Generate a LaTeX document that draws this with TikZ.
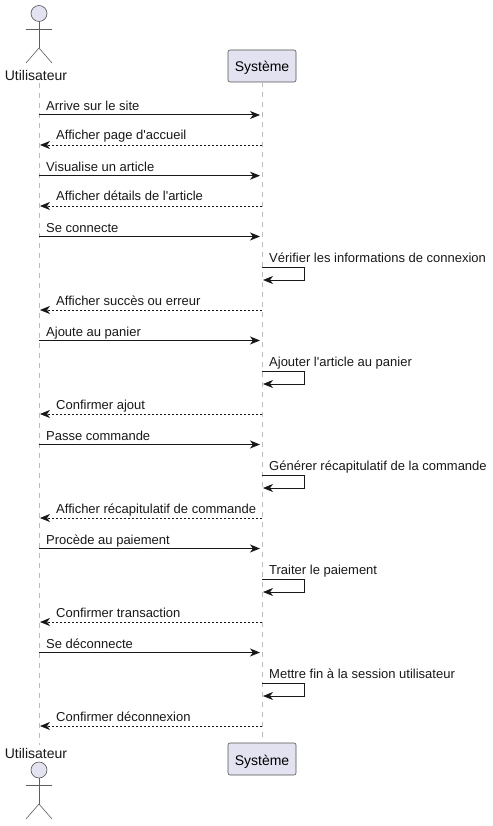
\documentclass[tikz,border=0pt]{standalone}
\usepackage{fontspec}
\setmainfont{Liberation Sans}
\usepackage{xcolor}
\definecolor{ActorBlue}{HTML}{E2E2F0}
\definecolor{LineDark}{HTML}{181818}
\definecolor{LineGray}{HTML}{BBBBBB}
\usepackage{tikz}
\usetikzlibrary{arrows.meta,positioning,calc}

\begin{document}
\begin{tikzpicture}[
  x=1pt,y=-1pt,
  box/.style={draw=LineDark!75,fill=ActorBlue,rounded corners=2pt,line width=0.6pt,align=center,font=\fontsize{14}{16}\selectfont,minimum width=68pt,minimum height=32pt,inner sep=0pt,text height=12pt,text depth=0pt},
  label/.style={font=\fontsize{14}{16}\selectfont,text=LineDark,inner sep=0pt},
  head/.style={draw=LineDark!75,fill=ActorBlue,circle,line width=0.6pt,minimum size=16pt,inner sep=0pt},
  limb/.style={draw=LineDark!70,line width=0.6pt},
  life/.style={LineGray,line width=1pt,dash pattern=on 5pt off 5pt},
  msgtext/.style={font=\fontsize{13}{15}\selectfont,text=LineDark,inner sep=0pt,anchor=base west},
  arr/.style={-{Stealth[length=10pt,width=8pt,inset=3pt]},line width=1pt,LineDark},
  back/.style={arr,line width=0.8pt,dash pattern=on 2pt off 2pt}
]
  \useasboundingbox (0,0) rectangle (492,826);
  % actors and boxes
  \node[label] (usertop) at (36,75) {Utilisateur};
  \node[label] (userbot) at (36,753) {Utilisateur};
  \node[box] (systop) at (262,66) {Système};
  \node[box] (sysbot) at (262,759) {Système};
  \coordinate (utop) at (39,83);
  \coordinate (ubot) at (39,745);
  \draw[life] (utop) -- (ubot);
  \draw[life] (systop) -- (sysbot);
  \node[head] (headtop) at (39,13.5) {};
  \coordinate (hiptop) at (39,48);
  \coordinate (armltop) at (26,29);
  \coordinate (armrtop) at (52,29);
  \coordinate (legltop) at (26,63);
  \coordinate (legrtop) at (52,63);
  \draw[limb] (headtop) -- (hiptop);
  \draw[limb] (armltop) -- (armrtop);
  \draw[limb] (legltop) -- (hiptop) -- (legrtop);
  \node[head] (headbot) at (39,770) {};
  \coordinate (hipbot) at (39,804);
  \coordinate (armlbot) at (26,785);
  \coordinate (armrbot) at (52,785);
  \coordinate (leglbot) at (26,819);
  \coordinate (legrbot) at (52,819);
  \draw[limb] (headbot) -- (hipbot);
  \draw[limb] (armlbot) -- (armrbot);
  \draw[limb] (leglbot) -- (hipbot) -- (legrbot);
  % messages to the system
  \foreach \i/\y/\txt in {a/115/Arrive sur le site,b/175.7/Visualise un article,c/236.5/Se connecte,d/340.5/Ajoute au panier,e/444.5/Passe commande,f/548.5/Procède au paiement,g/652.5/Se déconnecte}{
    \coordinate (u\i) at (39,\y);
    \coordinate (s\i) at (260,\y);
    \draw[arr] (u\i) -- (s\i);
    \node[msgtext] (t\i) at (46,\y-4.4) {\txt};
  }
  % answers
  \foreach \i/\y/\txt in {h/145/Afficher page d\textquotesingle accueil,j/206/Afficher détails de l\textquotesingle article,k/310/Afficher succès ou erreur,l/414/Confirmer ajout,m/518/Afficher récapitulatif de commande,n/622/Confirmer transaction,o/726/Confirmer déconnexion}{
    \coordinate (s\i) at (262,\y);
    \coordinate (u\i) at (40,\y);
    \draw[back] (s\i) -- (u\i);
    \node[msgtext] (t\i) at (56,\y-5) {\txt};
  }
  % self calls
  \foreach \i/\y/\txt in {p/267/Vérifier les informations de connexion,q/371/Ajouter l\textquotesingle article au panier,r/475/Générer récapitulatif de la commande,s/579/Traiter le paiement,v/683/Mettre fin à la session utilisateur}{
    \coordinate (from\i) at (262,\y);
    \coordinate (to\i) at (263,\y+13);
    \draw[arr] (from\i) -| ($(to\i)+(41,0)$) -- (to\i);
    \node[msgtext] (t\i) at (269,\y-5) {\txt};
  }
\end{tikzpicture}
\end{document}
